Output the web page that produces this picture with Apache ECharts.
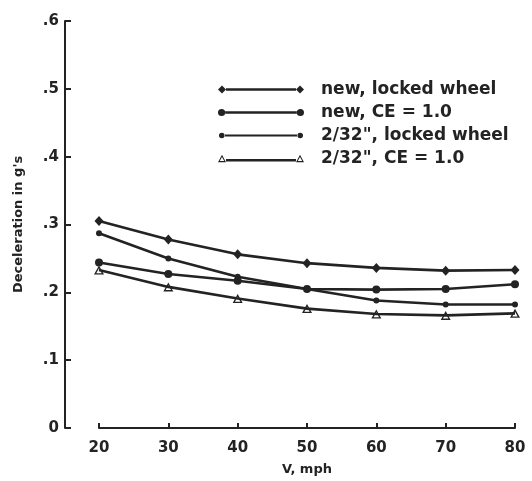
<!DOCTYPE html>
<html>
<head>
<meta charset="utf-8">
<script src="https://cdn.jsdelivr.net/npm/echarts@6/dist/echarts.min.js"></script>
<style>
html,body{margin:0;padding:0;background:#fff;}
#chart{width:532px;height:481px;}
</style>
</head>
<body>
<div id="chart"></div>
<script>
// ---- data ----
var speeds = [20, 30, 40, 50, 60, 70, 80];
var newLocked = [0.305, 0.278, 0.256, 0.243, 0.236, 0.232, 0.233];
var newCE = [0.244, 0.227, 0.217, 0.205, 0.204, 0.205, 0.212];
var wornLocked = [0.287, 0.250, 0.223, 0.205, 0.188, 0.182, 0.182];
var wornCE = [0.233, 0.208, 0.191, 0.176, 0.168, 0.166, 0.169];
var seriesNames = ['new, locked wheel', 'new, CE = 1.0', '2/32", locked wheel', '2/32", CE = 1.0'];
var yTickLabels = {0: '0', 1: '.1', 2: '.2', 3: '.3', 4: '.4', 5: '.5', 6: '.6'};

function pairs(vals) { return speeds.map(function (s, i) { return [s, vals[i]]; }); }

var INK = '#232323';
var FONT = 'DejaVu Sans';
var triPath = 'path://M0,10L5,1L10,10ZM2.3,8.7L7.7,8.7L5,3.8Z';

// legend icons: marker - line - marker
var iconDiamond = 'path://M0,4L4,0L8,4L4,8ZM8,2.8L78,2.8L78,5.2L8,5.2ZM78,4L82,0L86,4L82,8Z';
var iconCircle = 'path://M0,4A3.6,3.6,0,1,0,7.2,4A3.6,3.6,0,1,0,0,4ZM7,2.8L79,2.8L79,5.2L7,5.2ZM78.8,4A3.6,3.6,0,1,0,86,4A3.6,3.6,0,1,0,78.8,4Z';
var iconDot = 'path://M1,4A2.8,2.8,0,1,0,6.6,4A2.8,2.8,0,1,0,1,4ZM6,2.9L80,2.9L80,5.1L6,5.1ZM79.4,4A2.8,2.8,0,1,0,85,4A2.8,2.8,0,1,0,79.4,4ZM0,0L0.01,0L0.01,0.01ZM86,8L85.99,8L85.99,7.99Z';
var iconTri = 'path://M0,8L4,0.5L8,8ZM1.8,6.8L6.2,6.8L4,2.7ZM8,4.8L78,4.8L78,7.2L8,7.2ZM78,8L82,0.5L86,8ZM79.8,6.8L84.2,6.8L82,2.7Z';

function lineSeries(name, vals, symbol, size) {
  return {
    type: 'line',
    name: name,
    data: pairs(vals),
    symbol: symbol,
    symbolSize: size,
    showSymbol: true,
    lineStyle: { color: INK, width: 2.6 },
    itemStyle: { color: INK, borderWidth: 0 },
    emphasis: { disabled: true },
    animation: false,
    z: 3
  };
}

var chart = echarts.init(document.getElementById('chart'), null, { renderer: 'canvas' });
chart.setOption({
  backgroundColor: '#ffffff',
  animation: false,
  grid: { left: 99, right: 17, top: 21, bottom: 49 },
  xAxis: {
    type: 'value',
    min: 20, max: 80, interval: 10,
    name: 'V, mph',
    nameLocation: 'middle',
    nameGap: 35,
    nameTextStyle: { fontFamily: FONT, fontSize: 13, fontWeight: 'bold', color: INK },
    axisLine: { show: true, lineStyle: { color: INK, width: 2 } },
    axisTick: { show: true, inside: true, length: 5, lineStyle: { color: INK, width: 2 } },
    axisLabel: { margin: 13, fontFamily: FONT, fontSize: 15, fontWeight: 'bold', color: INK },
    splitLine: { show: false }
  },
  yAxis: {
    type: 'value',
    min: 0, max: 0.6, interval: 0.1,
    offset: 34,
    name: "Deceleration in g's",
    nameLocation: 'middle',
    nameGap: 40,
    nameTextStyle: { fontFamily: FONT, fontSize: 13, fontWeight: 'bold', color: INK },
    axisLine: { show: true, lineStyle: { color: INK, width: 2 } },
    axisTick: { show: true, inside: true, length: 6, lineStyle: { color: INK, width: 2 } },
    axisLabel: {
      margin: 6, fontFamily: FONT, fontSize: 15, fontWeight: 'bold', color: INK,
      formatter: function (v) { return yTickLabels[Math.round(v * 10)]; }
    },
    splitLine: { show: false }
  },
  legend: {
    orient: 'vertical',
    left: 213,
    top: 76,
    itemWidth: 86,
    itemHeight: 8,
    itemGap: 6,
    selectedMode: false,
    itemStyle: { color: INK, borderWidth: 0 },
    textStyle: { fontFamily: FONT, fontSize: 17, fontWeight: 'bold', color: INK, padding: [0, 0, 0, 12] },
    data: [
      { name: seriesNames[0], icon: iconDiamond },
      { name: seriesNames[1], icon: iconCircle },
      { name: seriesNames[2], icon: iconDot },
      { name: seriesNames[3], icon: iconTri }
    ]
  },
  series: [
    lineSeries(seriesNames[0], newLocked, 'diamond', [9, 10]),
    lineSeries(seriesNames[1], newCE, 'circle', 8),
    lineSeries(seriesNames[2], wornLocked, 'circle', 6),
    lineSeries(seriesNames[3], wornCE, triPath, [10, 9])
  ]
});
</script>
</body>
</html>
